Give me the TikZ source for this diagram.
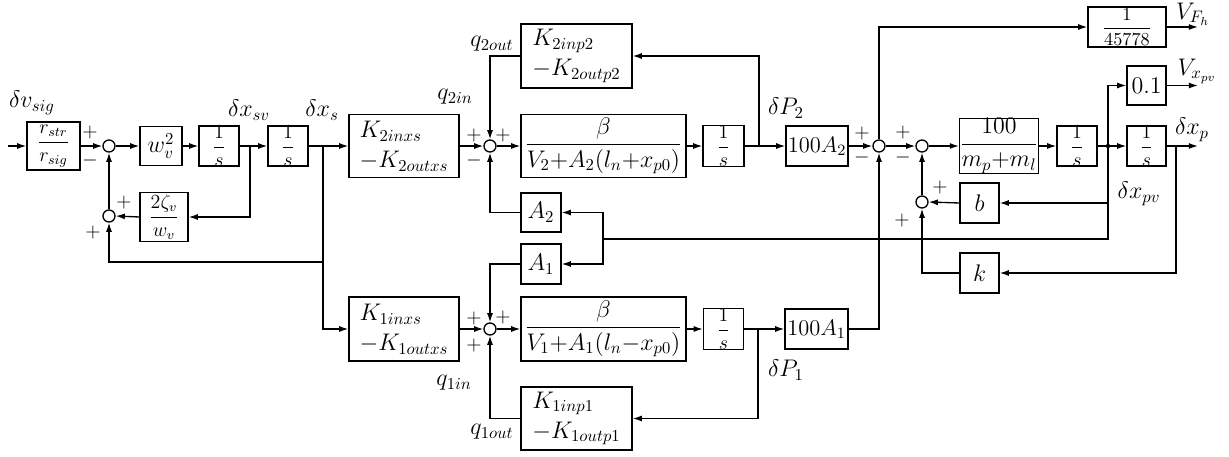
\RequirePackage{fix-cm}
\documentclass[tikz,border=0pt]{standalone}
\usepackage{amsmath}
\usetikzlibrary{arrows.meta}
\begin{document}
\begin{tikzpicture}[x=0.6pt,y=-0.6pt,
  line width=0.8pt,
  >={Latex[length=5.5pt,width=3.6pt]},
  every node/.style={font=\fontsize{14.4}{17}\selectfont},
  blk/.style 2 args={draw, inner sep=0pt, minimum width=#1*0.6pt, minimum height=#2*0.6pt},
  fr/.style={font=\fontsize{12}{14}\selectfont},
  sum/.style={draw, circle, inner sep=0pt, minimum size=12*0.6pt},
  lbl/.style={inner sep=0pt},
  sgn/.style={inner sep=0pt, font=\fontsize{12}{14}\selectfont}
]
\useasboundingbox (0,0) rectangle (1229,456);

% ---------- blocks ----------
\node[blk={53}{48}, fr] (rr) at (53.5,146) {$\dfrac{r_{str}}{r_{sig}}$};
\node[sum] (s1) at (109,146) {};
\node[blk={42}{39}] (w2) at (161,146) {$w^{2}_{v}$};
\node[blk={40}{39}, fr] (i1) at (219,146) {$\dfrac{1}{s}$};
\node[blk={40}{39}, fr] (i2) at (288,146) {$\dfrac{1}{s}$};
\node[blk={48}{49}, fr] (zeta) at (164,217) {$\dfrac{2\zeta_v}{w_v}$};
\node[sum] (s2) at (109,216) {};

\node[blk={110}{63}, align=left] (K2x) at (404,146) {$K_{2inxs}$\\[1pt]$-K_{2outxs}$};
\node[blk={110}{64}, align=left] (K1x) at (404,329) {$K_{1inxs}$\\[1pt]$-K_{1outxs}$};
\node[sum] (s3) at (490,146) {};
\node[sum] (s4) at (490,329) {};
\node[blk={111}{64}, align=left] (K2p) at (576.5,56) {$K_{2inp2}$\\[1pt]$-K_{2outp2}$};
\node[blk={111}{63}, align=left] (K1p) at (576.5,418.5) {$K_{1inp1}$\\[1pt]$-K_{1outp1}$};
\node[blk={165}{63}] (B2) at (603.5,146) {$\dfrac{\beta}{V_2{+}A_2(l_n{+}x_{p0})}$};
\node[blk={165}{64}] (B1) at (603.5,329) {$\dfrac{\beta}{V_1{+}A_1(l_n{-}x_{p0})}$};
\node[blk={40}{39}] (A2) at (541,212.5) {$A_2$};
\node[blk={40}{40}] (A1) at (541,264) {$A_1$};

\node[blk={41}{41}, fr] (I2) at (723.5,146) {$\dfrac{1}{s}$};
\node[blk={40}{41}, fr] (I3) at (723.5,329) {$\dfrac{1}{s}$};
\node[blk={62}{40}, font=\fontsize{13.5}{16}\selectfont] (P2) at (817,146) {$100A_2$};
\node[blk={63}{40}, font=\fontsize{13.5}{16}\selectfont] (P1) at (816.5,329) {$100A_1$};
\node[sum] (s5) at (879,146) {};
\node[sum] (s6) at (922,146) {};
\node[sum] (s7) at (922,202) {};

\node[blk={78}{40}, font=\fontsize{10.95}{13}\selectfont] (F) at (1127,27) {$\dfrac{1}{45778}$};
\node[blk={39}{39}] (V) at (1146.5,85.5) {$0.1$};
\node[blk={78}{47}] (M) at (999,146) {$\dfrac{100}{m_p{+}m_l}$};
\node[blk={40}{40}, fr] (I4) at (1077,146) {$\dfrac{1}{s}$};
\node[blk={39}{40}, fr] (I5) at (1146.5,146) {$\dfrac{1}{s}$};
\node[blk={39}{40}] (b) at (979.5,203) {$b$};
\node[blk={39}{40}] (k) at (979.5,273) {$k$};

% ---------- coordinates ----------
\coordinate (in) at (8,146);
\coordinate (bsv) at (250,146);
\coordinate (bs) at (323,146);
\coordinate (b2) at (759,146);
\coordinate (b1) at (758,329);
\coordinate (bv) at (1108,146);
\coordinate (bp) at (1176,146);
\coordinate (ba) at (603,239);
\coordinate (oF) at (1198,27);
\coordinate (oV) at (1198,85.5);
\coordinate (oP) at (1198,146);

% ---------- connectors ----------
\draw[->] (in) -- (rr);
\draw[->] (rr) -- (s1);
\draw[->] (s1) -- (w2);
\draw[->] (w2) -- (i1);
\draw[->] (i1) -- (i2);
\draw[->] (bsv) |- (zeta.east);
\draw[->] (zeta.west) -- (s2.east);
\draw[->] (s2.north) -- (s1.south);
\draw[->] (bs) -- ++(0,116) -| (s2.south);
\draw[->] (i2.east) -- (K2x.west);
\draw[->] (bs) |- (K1x.west);

\draw[->] (K2x) -- (s3);
\draw[->] (s3) -- (B2);
\draw[->] (K1x) -- (s4);
\draw[->] (s4) -- (B1);
\draw[->] (K2p.west) -| (s3.north);
\draw[->] (A2.west) -| (s3.south);
\draw[->] (A1.west) -| (s4.north);
\draw[->] (K1p.west) -| (s4.south);

\draw[->] (B2) -- (I2);
\draw[->] (I2) -- (P2);
\draw[->] (b2) |- (K2p.east);
\draw[->] (B1) -- (I3);
\draw[->] (I3) -- (P1);
\draw[->] (b1) |- (K1p.east);

\draw[->] (P2) -- (s5);
\draw[->] (s5) -- (s6);
\draw[->] (P1.east) -| (s5.south);
\draw[->] (s5.north) |- (F.west);
\draw[->] (F.east) -- (oF);

\draw[->] (s6) -- (M);
\draw[->] (M) -- (I4);
\draw[->] (I4) -- (I5);
\draw[->] (I5.east) -- (oP);
\draw[->] (bv) |- (V.west);
\draw[->] (V.east) -- (oV);
\fill (bv) circle (2.2);

\draw[->] (bv) |- (b.east);
\draw[->] (b.west) -- (s7.east);
\draw[->] (s7.north) -- (s6.south);
\draw (bv) |- (ba);
\draw[->] (ba) |- (A2.east);
\draw[->] (ba) |- (A1.east);
\draw[->] (bp) |- (k.east);
\draw[->] (k.west) -| (s7.south);

% ---------- labels ----------
\node[lbl] at (32,103) {$\delta v_{sig}$};
\node[lbl] at (249,110) {$\delta x_{sv}$};
\node[lbl] at (322,110) {$\delta x_s$};
\node[lbl] at (455,97) {$q_{2in}$};
\node[lbl] at (492,44) {$q_{2out}$};
\node[lbl] at (454,383) {$q_{1in}$};
\node[lbl] at (492,432) {$q_{1out}$};
\node[lbl] at (786,108) {$\delta P_2$};
\node[lbl] at (786,370) {$\delta P_1$};
\node[lbl] at (1193,14) {$V_{F_h}$};
\node[lbl] at (1197,71) {$V_{x_{pv}}$};
\node[lbl] at (1192,130) {$\delta x_p$};
\node[lbl] at (1139,194) {$\delta x_{pv}$};

% ---------- signs ----------
\node[sgn] at (90,132) {$+$};
\node[sgn] at (90,160) {$-$};
\node[sgn] at (124,202) {$+$};
\node[sgn] at (93,232) {$+$};
\node[sgn] at (474,135) {$+$};
\node[sgn] at (503,135) {$+$};
\node[sgn] at (474,160) {$-$};
\node[sgn] at (474,318) {$+$};
\node[sgn] at (503,317) {$+$};
\node[sgn] at (474,345) {$+$};
\node[sgn] at (862,133) {$+$};
\node[sgn] at (862,157) {$-$};
\node[sgn] at (903,132) {$+$};
\node[sgn] at (903,157) {$-$};
\node[sgn] at (940,187) {$+$};
\node[sgn] at (902,220) {$+$};
\end{tikzpicture}
\end{document}
